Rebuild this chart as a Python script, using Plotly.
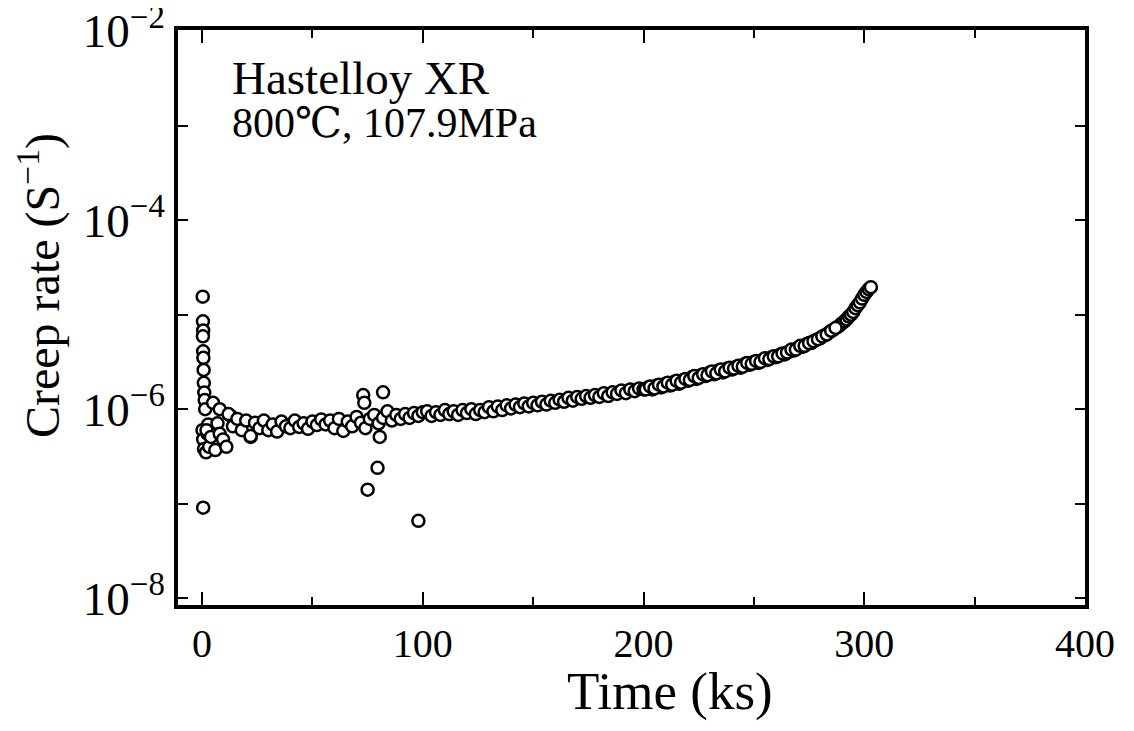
import plotly.graph_objects as go

# ---- data (time in ks, creep rate in 1/s) ----
primary_time = [0.3, 0.4, 0.5, 0.4, 0.5, 0.6, 0.7, 0.8, 1.0, 1.2, 1.4, 0.2, 0.5, 0.9, 1.8,
                3.2, 2.5, 2.8, 2.0, 4.0, 5.0, 6.0, 7.0, 8.0, 8.0, 9.5, 11.0, 13.0, 15.0, 22.0]
primary_rate = [1.55e-5, 8.5e-6, 6.8e-6, 5.9e-6, 4.1e-6, 3.5e-6, 2.6e-6, 1.9e-6, 1.5e-6, 1.25e-6,
                1.0e-6, 6.0e-7, 4.8e-7, 3.8e-7, 3.5e-7, 4.0e-7, 5.5e-7, 6.9e-7, 6.0e-7, 5.1e-7,
                1.17e-6, 3.7e-7, 7.1e-7, 5.5e-7, 1.0e-6, 4.8e-7, 4.0e-7, 8.5e-7, 7.1e-7, 5.1e-7]

steady_time = [12, 14, 16, 18, 20, 22, 24, 26, 28, 30, 32, 34, 36, 38, 40, 42, 44, 46, 48, 50,
               52, 54, 56, 58, 60, 62, 64, 66, 68, 70, 72, 74, 76, 78, 80, 82, 84, 86, 88, 90,
               92, 94, 96, 98, 100, 102, 104, 106, 108, 110, 112, 114, 116, 118, 120, 122, 124,
               126, 128, 130, 132, 134, 136, 138, 140, 142, 144, 146, 148, 150, 152, 154, 156,
               158, 160, 162, 164, 166, 168, 170, 172, 174, 176, 178, 180, 182, 184, 186, 188,
               190, 192, 194, 196, 198, 200]
steady_rate = [8.9e-7, 6.6e-7, 7.9e-7, 6.0e-7, 7.6e-7, 5.2e-7, 7.2e-7, 6.3e-7, 7.6e-7, 6.0e-7,
               6.9e-7, 5.8e-7, 7.4e-7, 6.6e-7, 6.3e-7, 7.6e-7, 6.5e-7, 7.1e-7, 6.2e-7, 7.4e-7,
               6.8e-7, 7.8e-7, 6.9e-7, 7.6e-7, 6.3e-7, 7.9e-7, 5.9e-7, 7.4e-7, 6.6e-7, 8.3e-7,
               7.2e-7, 6.3e-7, 7.9e-7, 8.7e-7, 7.1e-7, 8.1e-7, 9.5e-7, 7.6e-7, 8.7e-7, 7.9e-7,
               8.9e-7, 8.1e-7, 9.1e-7, 8.5e-7, 9.3e-7, 9.5e-7, 8.5e-7, 9.3e-7, 8.7e-7, 9.8e-7,
               8.9e-7, 9.5e-7, 8.7e-7, 9.8e-7, 9.1e-7, 1.0e-6, 8.9e-7, 9.8e-7, 9.3e-7, 1.05e-6,
               9.5e-7, 1.07e-6, 9.8e-7, 1.10e-6, 1.02e-6, 1.12e-6, 1.05e-6, 1.15e-6, 1.07e-6,
               1.17e-6, 1.10e-6, 1.20e-6, 1.12e-6, 1.23e-6, 1.17e-6, 1.26e-6, 1.20e-6, 1.32e-6,
               1.23e-6, 1.35e-6, 1.29e-6, 1.38e-6, 1.32e-6, 1.41e-6, 1.35e-6, 1.48e-6, 1.38e-6,
               1.51e-6, 1.45e-6, 1.58e-6, 1.48e-6, 1.62e-6, 1.55e-6, 1.66e-6, 1.62e-6]

tertiary_time = [202, 204, 206, 208, 210, 212, 214, 216, 218, 220, 222, 224, 226, 228, 230, 232,
                 234, 236, 238, 240, 242, 244, 246, 248, 250, 252, 254, 256, 258, 260, 262, 264,
                 266, 268, 270, 272, 274, 276, 278, 280, 282, 284, 286, 288, 289, 290, 291, 292,
                 293, 294, 295, 296, 297, 298, 299, 300, 301, 302, 303,
                 201, 203, 205, 207, 209, 211, 213, 215, 217, 219, 221, 223, 225, 227, 229, 231,
                 233, 235, 237, 239, 241, 243, 245, 247, 249, 251, 253, 255, 257, 259, 261, 263,
                 265, 267, 269, 271, 273, 275, 277, 279, 281, 283, 285, 287]
tertiary_rate = [1.70e-6, 1.62e-6, 1.78e-6, 1.70e-6, 1.86e-6, 1.78e-6, 1.95e-6, 1.86e-6, 2.04e-6,
                 2.0e-6, 2.19e-6, 2.09e-6, 2.29e-6, 2.24e-6, 2.45e-6, 2.34e-6, 2.57e-6, 2.45e-6,
                 2.69e-6, 2.63e-6, 2.82e-6, 2.75e-6, 3.02e-6, 2.95e-6, 3.16e-6, 3.09e-6, 3.31e-6,
                 3.31e-6, 3.55e-6, 3.55e-6, 3.80e-6, 3.80e-6, 4.07e-6, 4.17e-6, 4.47e-6, 4.57e-6,
                 4.90e-6, 5.01e-6, 5.37e-6, 5.62e-6, 6.03e-6, 6.46e-6, 6.92e-6, 7.41e-6, 7.76e-6,
                 8.13e-6, 8.51e-6, 8.91e-6, 9.55e-6, 1.0e-5, 1.07e-5, 1.17e-5, 1.26e-5, 1.35e-5,
                 1.48e-5, 1.62e-5, 1.74e-5, 1.86e-5, 1.95e-5,
                 1.62e-6, 1.74e-6, 1.66e-6, 1.82e-6, 1.74e-6, 1.91e-6, 1.82e-6, 2.0e-6, 1.91e-6,
                 2.09e-6, 2.04e-6, 2.24e-6, 2.14e-6, 2.34e-6, 2.29e-6, 2.51e-6, 2.40e-6, 2.63e-6,
                 2.51e-6, 2.75e-6, 2.69e-6, 2.88e-6, 2.82e-6, 3.09e-6, 3.02e-6, 3.24e-6, 3.16e-6,
                 3.47e-6, 3.39e-6, 3.63e-6, 3.63e-6, 3.89e-6, 3.98e-6, 4.27e-6, 4.27e-6, 4.68e-6,
                 4.68e-6, 5.01e-6, 5.25e-6, 5.50e-6, 5.89e-6, 6.17e-6, 6.76e-6, 7.24e-6]

outlier_time = [0.5, 73.0, 73.5, 82.0, 80.5, 79.5, 75.0, 98.0]
outlier_rate = [9.1e-8, 1.41e-6, 1.17e-6, 1.51e-6, 5.1e-7, 2.4e-7, 1.41e-7, 6.6e-8]

x_tick_vals = [0, 100, 200, 300, 400]
x_tick_text = ["0", "100", "200", "300", "400"]
y_tick_vals = [1e-8, 1e-7, 1e-6, 1e-5, 1e-4, 1e-3, 1e-2]
y_tick_text = ["10<sup>−8</sup>", "", "10<sup>−6</sup>", "", "10<sup>−4</sup>", "",
               "10<sup>−2</sup>"]

time_all = primary_time + steady_time + tertiary_time + outlier_time
rate_all = primary_rate + steady_rate + tertiary_rate + outlier_rate

SERIF = "Liberation Serif, Times New Roman, DejaVu Serif, serif"

fig = go.Figure()
fig.add_trace(go.Scatter(
    x=time_all, y=rate_all, mode="markers",
    marker=dict(symbol="circle", size=12, color="white",
                line=dict(color="black", width=2.5)),
    showlegend=False, hoverinfo="x+y",
))

# the page body adds an 8px offset, so the figure is 8px smaller and margins shifted
fig.update_layout(
    width=1126, height=723,
    margin=dict(l=170, r=49, t=22, b=126),
    paper_bgcolor="white", plot_bgcolor="white",
    font=dict(family=SERIF, color="black"),
    xaxis=dict(
        range=[-10.9, 400], tickvals=x_tick_vals, ticktext=x_tick_text,
        ticks="inside", ticklen=13, tickwidth=2, tickcolor="black",
        minor=dict(dtick=50, tick0=0, ticks="inside", ticklen=8, tickwidth=2,
                   tickcolor="black", showgrid=False),
        showline=True, linecolor="black", linewidth=3.5, mirror="allticks",
        showgrid=False, zeroline=False, automargin=False,
        tickfont=dict(family=SERIF, size=40, color="black"),
    ),
    yaxis=dict(
        type="log", range=[-8.07, -1.99], tickvals=y_tick_vals, ticktext=y_tick_text,
        ticks="inside", ticklen=10, tickwidth=2, tickcolor="black",
        showline=True, linecolor="black", linewidth=3.5, mirror="allticks",
        showgrid=False, zeroline=False, automargin=False, ticklabeloverflow="allow",
        tickfont=dict(family=SERIF, size=47, color="black"),
    ),
    annotations=[
        dict(text="Hastelloy XR", xref="paper", yref="paper", x=0.0573, y=0.916,
             xanchor="left", yanchor="middle", showarrow=False,
             font=dict(family=SERIF, size=47, color="black")),
        dict(text="800℃, 107.9MPa", xref="paper", yref="paper", x=0.0573, y=0.839,
             xanchor="left", yanchor="middle", showarrow=False,
             font=dict(family=SERIF, size=42, color="black")),
        dict(text="Time (ks)", xref="paper", yref="paper", x=0.542, y=-0.15,
             xanchor="center", yanchor="middle", showarrow=False,
             font=dict(family=SERIF, size=53, color="black")),
        dict(text="Creep rate (S<sup>−1</sup>)", xref="paper", yref="paper",
             x=-0.152, y=0.555, xanchor="center", yanchor="middle", textangle=-90,
             showarrow=False, font=dict(family=SERIF, size=48, color="black")),
    ],
)

fig.write_html("out.html")
